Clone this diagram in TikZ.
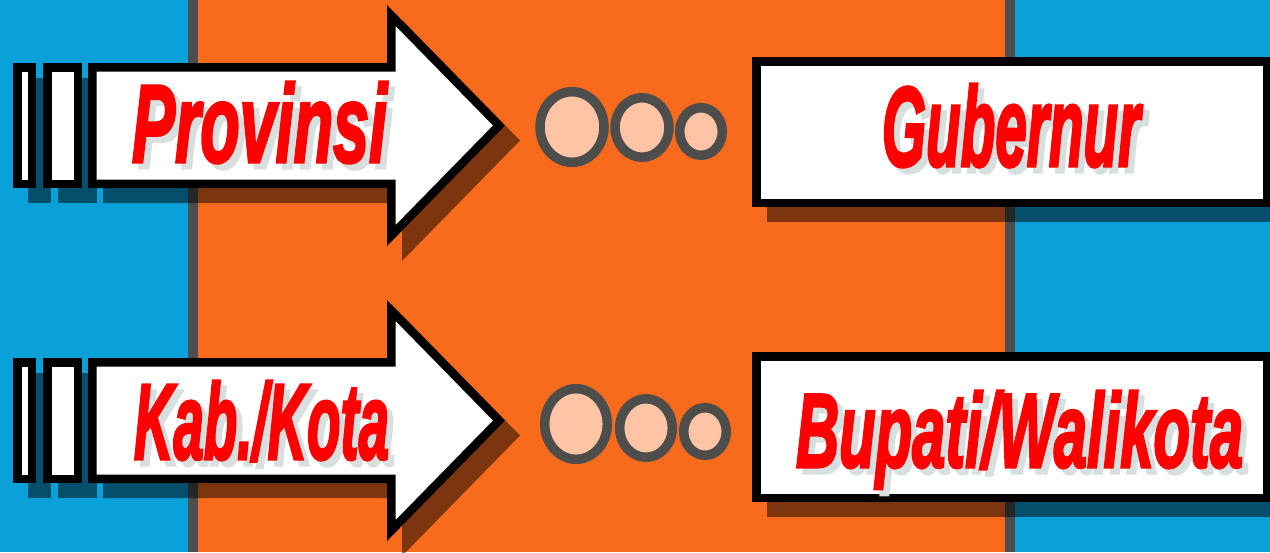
\documentclass[tikz,border=0pt]{standalone}
\usepackage{fontspec}
\usepackage{graphicx}
\newfontfamily\lsans{Liberation Sans}[BoldItalicFeatures={FakeBold=3}]
\usetikzlibrary{shapes.geometric}
\definecolor{bgblue}{HTML}{0AA0D8}
\definecolor{bgorange}{HTML}{F96B1C}
\definecolor{stripegray}{HTML}{4D4D4D}
\definecolor{ringgray}{HTML}{4D4D4B}
\definecolor{peach}{HTML}{FFC4A6}
\definecolor{txtshadow}{HTML}{D8DFDF}
\definecolor{txtred}{HTML}{FF0000}
\tikzset{
  outl/.style={draw=black, line width=8.5pt, fill=white, line join=miter},
  shad/.style={fill=black, fill opacity=0.5},
  ring/.style={draw=ringgray, line width=9.5pt, fill=peach},
  lbl/.style={inner sep=0pt, outer sep=0pt, anchor=base west, text=txtred, font=\lsans\bfseries\itshape},
  lblsh/.style={lbl, text=txtshadow, xshift=6pt, yshift=-6pt},
}
\newcommand\mylbl[5]{%
  \node[lblsh] (#1s) at (#2) {\resizebox{#3pt}{#4pt}{#5}};
  \node[lbl] (#1) at (#2) {\resizebox{#3pt}{#4pt}{#5}};
}
\begin{document}
\begin{tikzpicture}[x=1pt,y=-1pt]
\useasboundingbox (0,0) rectangle (1270,552);
% background
\fill[bgblue] (0,0) rectangle (188,552);
\fill[stripegray] (188,0) rectangle (198,552);
\fill[bgorange] (198,0) rectangle (1005,552);
\fill[stripegray] (1005,0) rectangle (1015,552);
\fill[bgblue] (1015,0) rectangle (1270,552);
% two rows of arrows and boxes
\foreach \dy in {0,295}{
  \begin{scope}[shift={(0,\dy)}]
    \begin{scope}[shift={(15,15)}]
      \fill[shad] (13,63) rectangle (36,188);
      \fill[shad] (43,63) rectangle (82,188);
      \fill[shad] (88,63) -- (387,63) -- (387,5) -- (505,125.5) -- (387,246) -- (387,188) -- (88,188) -- cycle;
      \fill[shad] (752,57) rectangle (1290,207);
    \end{scope}
    \draw[outl] (17.25,67.25) rectangle (31.75,183.75);
    \draw[outl] (47.25,67.25) rectangle (77.75,183.75);
    \draw[outl] (92.25,67.25) -- (391.25,67.25) -- (391.25,15.4) -- (499,125.5) -- (391.25,235.6) -- (391.25,183.75) -- (92.25,183.75) -- cycle;
    \draw[outl] (756.25,61.25) rectangle (1266.75,202.75);
  \end{scope}
}
% dots row 1
\draw[ring] (572,127) ellipse [x radius=32pt, y radius=35.3pt];
\draw[ring] (642,127.5) ellipse [x radius=26.9pt, y radius=29.8pt];
\draw[ring] (701,131.5) ellipse [x radius=21.3pt, y radius=23.8pt];
% dots row 2
\draw[ring] (576,424) ellipse [x radius=31.3pt, y radius=35.3pt];
\draw[ring] (646,428) ellipse [x radius=26.3pt, y radius=29.3pt];
\draw[ring] (705,431.5) ellipse [x radius=21.3pt, y radius=23.8pt];
% labels
\mylbl{prov}{132,162}{255}{80}{Provinsi}
\mylbl{kab}{134,459}{255}{78}{Kab./Kota}
\mylbl{gub}{882,166}{258}{82}{Gubernur}
\mylbl{bup}{796,467}{447}{76}{Bupati/Walikota}
\end{tikzpicture}
\end{document}
